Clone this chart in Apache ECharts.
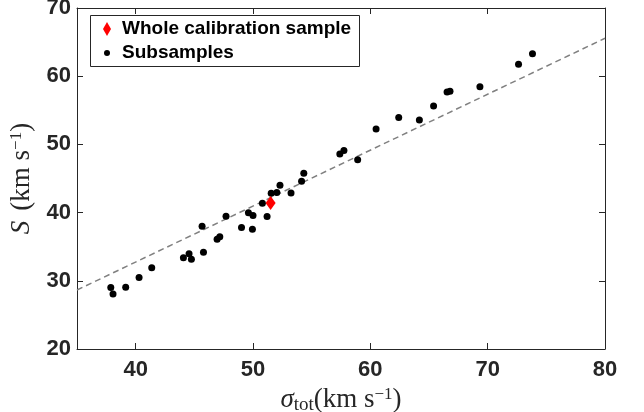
<!DOCTYPE html>
<html>
<head>
<meta charset="utf-8">
<script src="https://cdn.jsdelivr.net/npm/echarts@6/dist/echarts.min.js"></script>
<style>html,body{margin:0;padding:0;background:#fff;}#c{width:644px;height:412px;}</style>
</head>
<body>
<div id="c"></div>
<script>
// Subsamples
const subX = [37.88, 38.07, 39.15, 40.29, 41.37, 44.07, 44.55, 44.75, 45.66, 45.78, 46.94, 47.17, 47.7, 49.02, 49.61, 49.95, 50.0, 51.2, 50.8, 51.55, 52.03, 52.3, 53.24, 54.14, 54.33, 57.4, 57.75, 58.92, 60.49, 62.42, 64.18, 65.39, 66.54, 66.79, 69.34, 72.63, 73.82];
const subY = [29.0, 28.06, 29.07, 30.48, 31.9, 33.39, 33.95, 33.17, 37.99, 34.2, 36.1, 36.45, 39.48, 37.82, 39.99, 37.55, 39.57, 39.43, 41.36, 42.83, 42.95, 44.02, 42.87, 44.59, 45.78, 48.6, 49.1, 47.74, 52.26, 53.95, 53.58, 55.63, 57.68, 57.78, 58.46, 61.74, 63.3];
// Whole calibration sample
const wholeX = [51.5];
const wholeY = [41.4];
// Dashed fit line end points
const fitX = [35, 80];
const fitY = [28.65, 65.56];
// Tick values
const xTicks = [40, 50, 60, 70, 80];
const xInnerTicks = [40, 50, 60, 70];
const yTicks = [20, 30, 40, 50, 60, 70];

const sub = subX.map((x, i) => [x, subY[i]]);
const whole = wholeX.map((x, i) => [x, wholeY[i]]);
const fit = fitX.map((x, i) => [x, fitY[i]]);

const ink = '#262626';
const tickFont = { fontFamily: 'Liberation Sans', fontWeight: 'bold', fontSize: 22, color: ink };
const serif = 'Liberation Serif';
const rich = {
  i: { fontFamily: serif, fontStyle: 'italic', fontSize: 27, lineHeight: 29, color: ink, verticalAlign: 'middle' },
  n: { fontFamily: serif, fontSize: 27, lineHeight: 29, color: ink, verticalAlign: 'middle' },
  sp: { fontFamily: serif, fontSize: 27, lineHeight: 29, color: ink, verticalAlign: 'middle', width: 10 },
  sub: { fontFamily: serif, fontSize: 19, lineHeight: 19, color: ink, verticalAlign: 'bottom' },
  sup: { fontFamily: serif, fontSize: 17, lineHeight: 17, color: ink, verticalAlign: 'top' }
};

const chart = echarts.init(document.getElementById('c'), null, { renderer: 'canvas' });
chart.setOption({
  animation: false,
  backgroundColor: '#fff',
  grid: { left: 77, right: 39, top: 8, bottom: 63, containLabel: false, outerBoundsMode: 'none' },
  graphic: [{
    type: 'rect', z: 3,
    shape: { x: 90.5, y: 15.5, width: 269, height: 51 },
    style: { fill: '#fff', stroke: ink, lineWidth: 1 }
  }],
  legend: [{
    data: [{ name: 'Whole calibration sample', icon: 'path://M4,0L8,7L4,14L0,7Z' }],
    left: 103, top: 17, padding: 0,
    itemWidth: 8, itemHeight: 14,
    textStyle: { fontFamily: 'Liberation Sans', fontWeight: 'bold', fontSize: 19, color: '#000', lineHeight: 24, padding: [0, 0, 0, 6] },
    z: 5
  }, {
    data: [{ name: 'Subsamples', icon: 'circle' }],
    left: 104, top: 41, padding: 0,
    itemWidth: 6, itemHeight: 6,
    textStyle: { fontFamily: 'Liberation Sans', fontWeight: 'bold', fontSize: 19, color: '#000', lineHeight: 24, padding: [0, 0, 0, 7] },
    z: 5
  }],
  xAxis: [{
    type: 'value', min: 35, max: 80, position: 'bottom',
    name: '{i|σ}{sub|tot}{n|(km s}{sup|−1}{n|)}',
    nameLocation: 'middle', nameGap: 36,
    nameTextStyle: { rich: rich },
    axisLine: { show: true, onZero: false, lineStyle: { color: ink, width: 1 } },
    axisTick: { show: true, inside: true, length: 6, customValues: xTicks, lineStyle: { color: ink } },
    axisLabel: Object.assign({ customValues: xTicks, margin: 10 }, tickFont),
    splitLine: { show: false }
  }, {
    type: 'value', min: 35, max: 80, position: 'top',
    axisLine: { show: true, onZero: false, lineStyle: { color: ink, width: 1 } },
    axisTick: { show: true, inside: true, length: 6, customValues: xInnerTicks, lineStyle: { color: ink } },
    axisLabel: { show: false },
    splitLine: { show: false }
  }],
  yAxis: [{
    type: 'value', min: 20, max: 70, interval: 10, position: 'left',
    name: '{i|S}{sp|}{n|(km s}{sup|−1}{n|)}',
    nameLocation: 'middle', nameGap: 34, nameRotate: 90,
    nameTextStyle: { rich: rich },
    axisLine: { show: true, onZero: false, lineStyle: { color: ink, width: 1 } },
    axisTick: { show: true, inside: true, length: 6, lineStyle: { color: ink } },
    axisLabel: Object.assign({ margin: 6 }, tickFont),
    splitLine: { show: false }
  }, {
    type: 'value', min: 20, max: 70, interval: 10, position: 'right',
    axisLine: { show: true, onZero: false, lineStyle: { color: ink, width: 1 } },
    axisTick: { show: true, inside: true, length: 6, lineStyle: { color: ink } },
    axisLabel: { show: false },
    splitLine: { show: false }
  }],
  series: [{
    type: 'line', name: 'fit', data: fit, showSymbol: false, silent: true,
    lineStyle: { color: '#808080', width: 1.5, type: [6, 4] }, z: 1
  }, {
    type: 'scatter', name: 'Subsamples', data: sub,
    symbol: 'circle', symbolSize: 7,
    itemStyle: { color: '#000', opacity: 1 }, z: 2
  }, {
    type: 'scatter', name: 'Whole calibration sample', data: whole,
    symbol: 'diamond', symbolSize: [10, 14],
    itemStyle: { color: '#ff0000', opacity: 1 }, z: 3
  }]
});
</script>
</body>
</html>
